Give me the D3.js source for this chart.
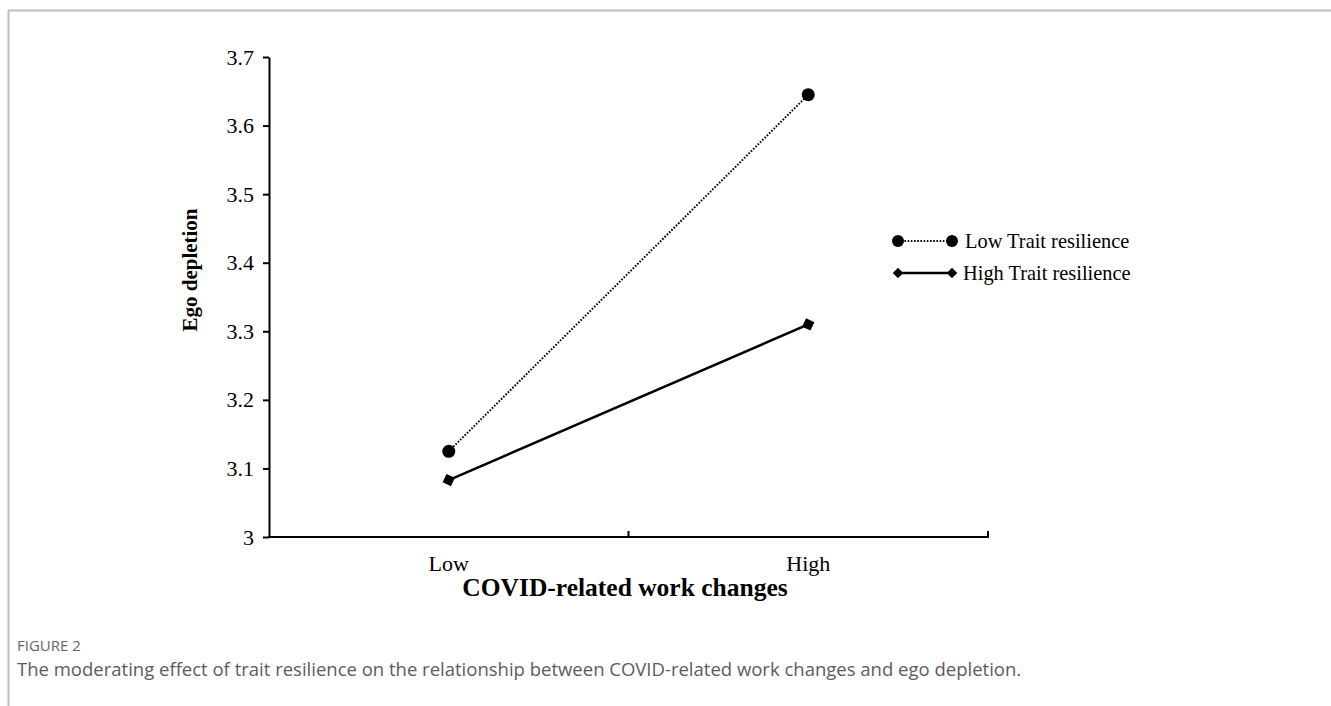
<!DOCTYPE html>
<html>
<head>
<meta charset="utf-8">
<script src="https://cdn.jsdelivr.net/npm/d3@7"></script>
<style>
    body { margin: 0; background: #fff; }
    .axis text { font-family: "Liberation Serif", "Times New Roman", serif; fill: #000; }
    .axis path, .axis line { stroke: #000; stroke-width: 2px; }
</style>
</head>
<body>
<div id="chart"></div>
<script>
// data
var categories = ["Low", "High"];
var yTicks = [3, 3.1, 3.2, 3.3, 3.4, 3.5, 3.6, 3.7];
var lowTrait = [3.125, 3.645];
var highTrait = [3.083, 3.31];
var seriesNames = ["Low Trait resilience", "High Trait resilience"];

var W = 1331, H = 706;
var plot = {left: 269, right: 988, top: 57, bottom: 537};

var svg = d3.select("#chart").append("svg")
    .attr("width", W)
    .attr("height", H);

// page frame
svg.append("line").attr("x1", 8).attr("x2", W).attr("y1", 10.5).attr("y2", 10.5)
    .style("stroke", "#bdbdbd").style("stroke-width", 2);
svg.append("line").attr("x1", 8.5).attr("x2", 8.5).attr("y1", 10).attr("y2", H)
    .style("stroke", "#bdbdbd").style("stroke-width", 2);

var x = d3.scaleBand()
    .domain(categories)
    .range([plot.left, plot.right]);

var y = d3.scaleLinear()
    .domain([3, 3.7])
    .range([plot.bottom, plot.top]);

// y axis
var yAxis = d3.axisLeft(y)
    .tickValues(yTicks)
    .tickSize(6)
    .tickSizeOuter(0)
    .tickPadding(9)
    .tickFormat(d3.format(""));

svg.append("g")
    .attr("class", "y axis")
    .attr("transform", "translate(" + plot.left + ",0)")
    .call(yAxis)
    .selectAll("text")
    .style("font-size", "22px");

// x axis (labels centred in bands, tick marks on band edges)
var xAxis = d3.axisBottom(x)
    .tickSize(0)
    .tickPadding(18);

var gx = svg.append("g")
    .attr("class", "x axis")
    .attr("transform", "translate(0," + plot.bottom + ")")
    .call(xAxis);
gx.select(".domain").remove();
gx.selectAll("text").style("font-size", "22px");

gx.append("line")
    .attr("x1", plot.left - 1).attr("x2", plot.right + 1)
    .attr("y1", 0).attr("y2", 0);

var edges = categories.map(function (d) { return x(d); }).concat([x.range()[1]]);
gx.selectAll(".edge")
    .data(edges.slice(1))
    .enter().append("line")
    .attr("class", "edge")
    .attr("x1", function (d) { return d; })
    .attr("x2", function (d) { return d; })
    .attr("y1", 0)
    .attr("y2", -6);

// axis titles
svg.append("text")
    .attr("transform", "translate(625,596)")
    .attr("text-anchor", "middle")
    .style("font-family", "Liberation Serif, serif")
    .style("font-weight", "bold")
    .style("font-size", "25.5px")
    .text("COVID-related work changes");

svg.append("text")
    .attr("transform", "translate(197,270) rotate(-90)")
    .attr("text-anchor", "middle")
    .style("font-family", "Liberation Serif, serif")
    .style("font-weight", "bold")
    .style("font-size", "21px")
    .text("Ego depletion");

var cx = function (d, i) { return x(categories[i]) + x.bandwidth() / 2; };

var line = d3.line()
    .x(function (d, i) { return cx(d, i); })
    .y(function (d) { return y(d); });

var diamond = d3.symbol().type(d3.symbolSquare).size(85);

// low trait resilience: dotted line, circles
svg.append("path")
    .attr("d", line(lowTrait))
    .style("fill", "none")
    .style("stroke", "#000")
    .style("stroke-width", 2)
    .style("stroke-dasharray", "1.6,1.6");

svg.selectAll(".dot-low")
    .data(lowTrait)
    .enter().append("circle")
    .attr("class", "dot-low")
    .attr("cx", cx)
    .attr("cy", function (d) { return y(d); })
    .attr("r", 6.5)
    .style("fill", "#000");

// high trait resilience: solid line, diamonds
svg.append("path")
    .attr("d", line(highTrait))
    .style("fill", "none")
    .style("stroke", "#000")
    .style("stroke-width", 2.5);

svg.selectAll(".dot-high")
    .data(highTrait)
    .enter().append("path")
    .attr("class", "dot-high")
    .attr("d", diamond)
    .attr("transform", function (d, i) {
        return "translate(" + cx(d, i) + "," + y(d) + ") rotate(25)";
    })
    .style("fill", "#000");

// legend
var legend = svg.append("g").attr("class", "legend");
var legendRows = legend.selectAll(".row")
    .data(seriesNames)
    .enter().append("g")
    .attr("class", "row")
    .attr("transform", function (d, i) {
        return "translate(898," + (241 + i * 32) + ")";
    });

legendRows.append("line")
    .attr("x1", 0).attr("x2", 54)
    .attr("y1", 0).attr("y2", 0)
    .style("stroke", "#000")
    .style("stroke-width", function (d, i) { return i === 0 ? 2 : 2.5; })
    .style("stroke-dasharray", function (d, i) { return i === 0 ? "1.6,1.6" : null; });

legendRows.each(function (d, i) {
    var g = d3.select(this);
    [0, 54].forEach(function (px) {
        if (i === 0) {
            g.append("circle").attr("cx", px).attr("cy", 0).attr("r", 6).style("fill", "#000");
        } else {
            g.append("path").attr("d", d3.symbol().type(d3.symbolSquare).size(55))
                .attr("transform", "translate(" + px + ",0) rotate(45)")
                .style("fill", "#000");
        }
    });
});

legendRows.append("text")
    .attr("x", function (d, i) { return i === 0 ? 67 : 65; })
    .attr("y", 0)
    .attr("dy", "0.33em")
    .style("font-family", "Liberation Serif, serif")
    .style("font-size", "20.4px")
    .text(function (d) { return d; });

// caption
svg.append("text")
    .attr("x", 17)
    .attr("y", 651)
    .style("font-family", "Open Sans, sans-serif")
    .style("font-size", "15px")
    .style("fill", "#666")
    .text("FIGURE 2");

svg.append("text")
    .attr("x", 17)
    .attr("y", 676)
    .style("font-family", "Open Sans, sans-serif")
    .style("font-size", "18.5px")
    .style("fill", "#5c5c5c")
    .text("The moderating effect of trait resilience on the relationship between COVID-related work changes and ego depletion.");
</script>
</body>
</html>
